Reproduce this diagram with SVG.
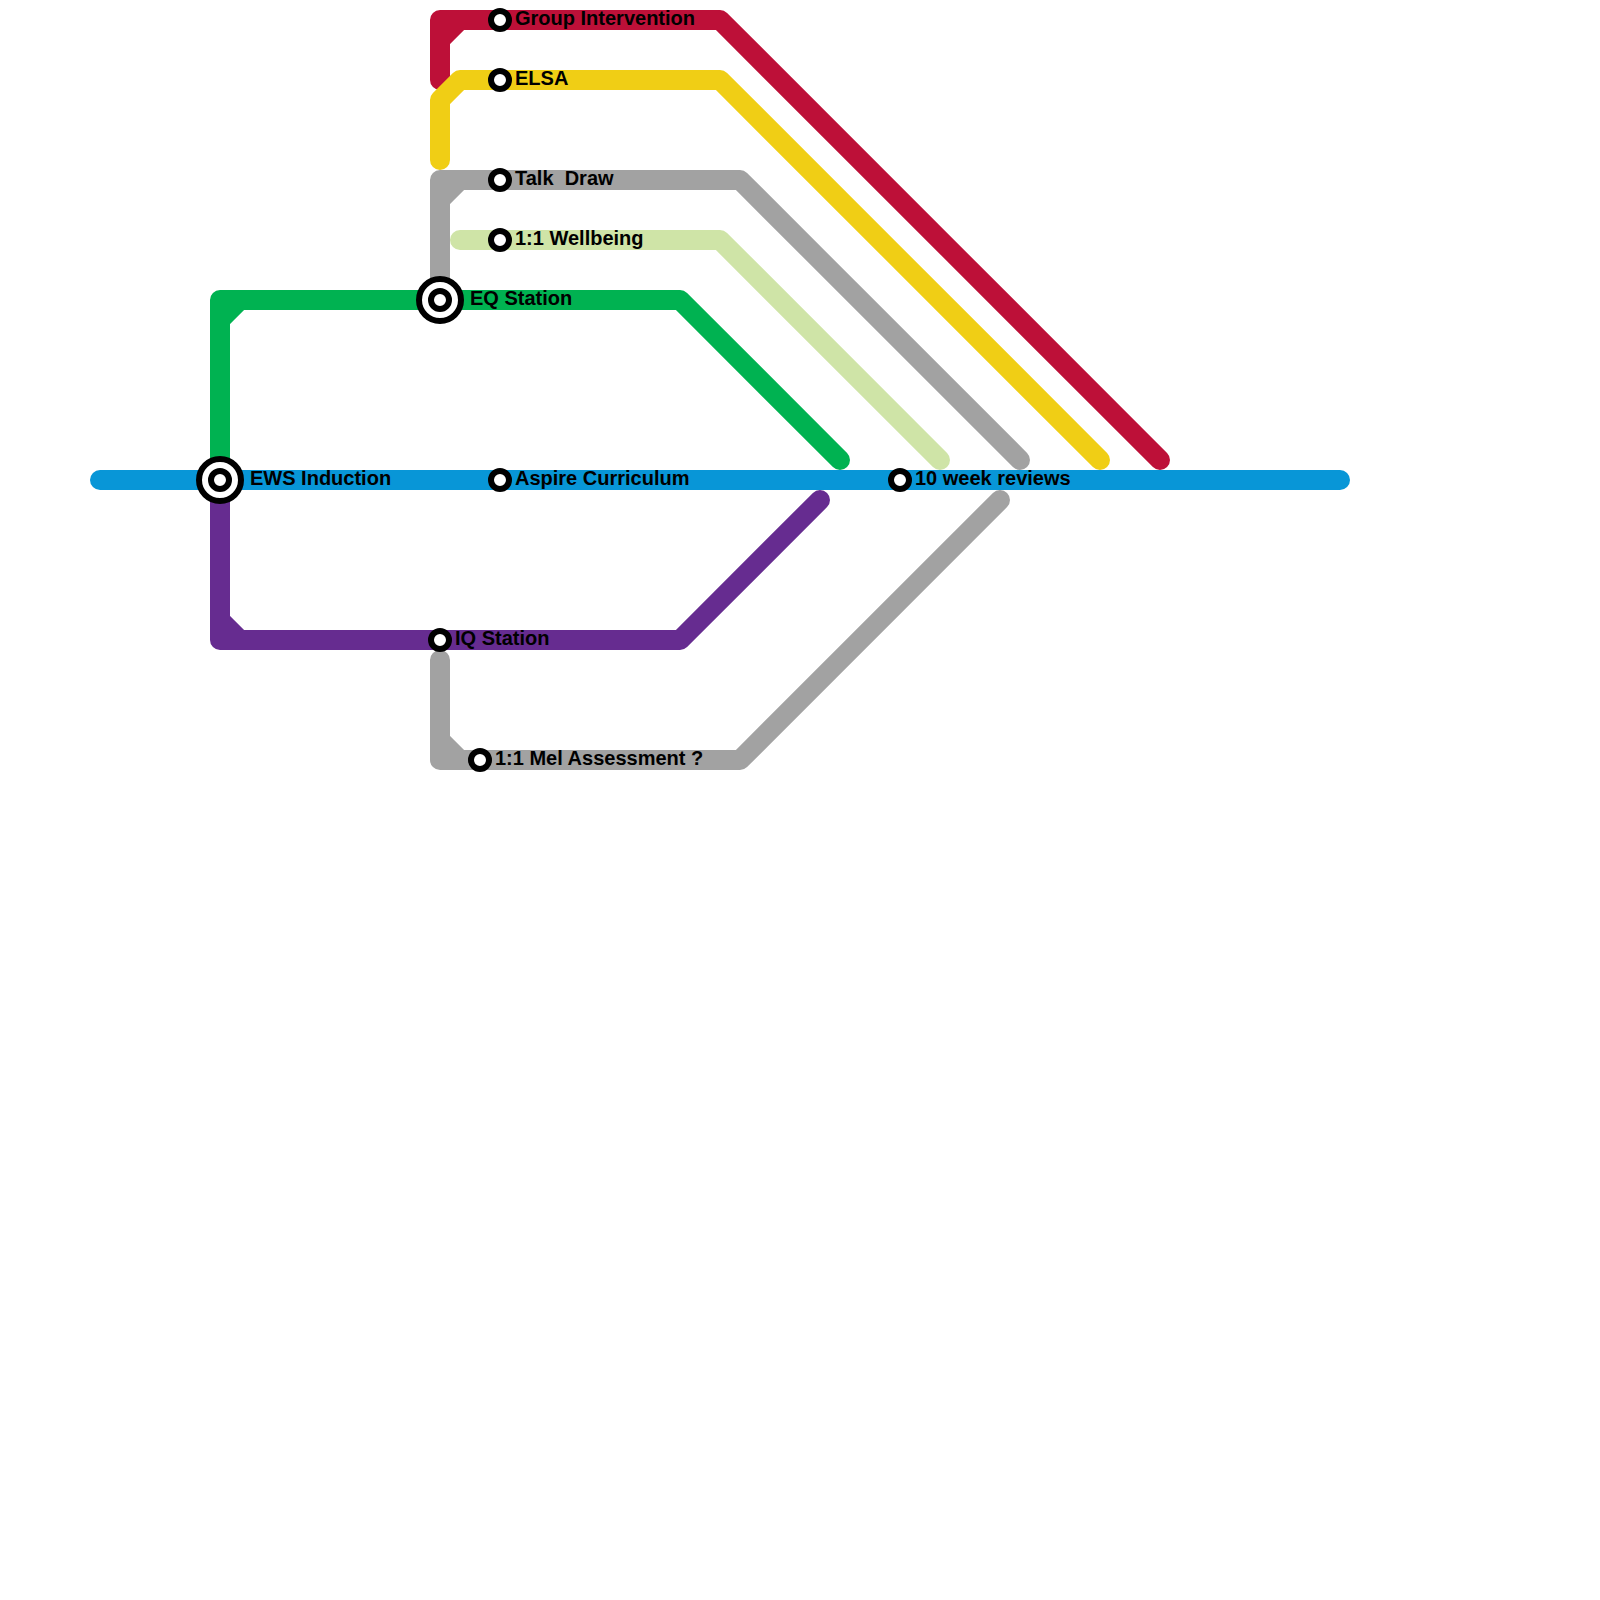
<svg xmlns="http://www.w3.org/2000/svg" width="1600" height="1600" viewBox="0 0 1600 1600">
<style>
.l{fill:none;stroke-width:20;stroke-linecap:round;stroke-linejoin:round}
.s{fill:#fff;stroke:#000;stroke-width:6}
text{font-family:"Liberation Sans",Arial,sans-serif;font-weight:700;font-size:20px;fill:#000}
</style>
<rect width="1600" height="1600" fill="#fff"/>
<g id="connectors">
<path id="line-red" class="l" stroke="#bd1038" d="M440 80V20H720L1160 460M440 80V40L460 20"/>
<path id="line-yellow" class="l" stroke="#f0ce15" d="M440 160V100L460 80H720L1100 460"/>
<path id="line-grey-upper" class="l" stroke="#a2a2a2" d="M440 300V180H740L1020 460M440 200L460 180"/>
<path id="line-lightgreen" class="l" stroke="#cfe4a7" d="M460 240H720L940 460"/>
<path id="line-green" class="l" stroke="#00b251" d="M220 480V300H680L840 460M220 320L240 300"/>
<path id="line-blue" class="l" stroke="#0896d7" d="M100 480H1340"/>
<path id="line-purple" class="l" stroke="#662c90" d="M220 480V640H680L820 500M220 620L240 640"/>
<path id="line-grey-lower" class="l" stroke="#a2a2a2" d="M440 660V760H740L1000 500M440 740L460 760"/>
</g>
<g id="ews-induction"><circle class="s" cx="220" cy="480" r="21"/><circle class="s" cx="220" cy="480" r="9"/><text x="250" y="485">EWS Induction</text></g>
<g id="eq-station"><circle class="s" cx="440" cy="300" r="21"/><circle class="s" cx="440" cy="300" r="9"/><text x="470" y="305">EQ Station</text></g>
<g id="group-intervention"><circle class="s" cx="500" cy="20" r="9"/><text x="515" y="25">Group Intervention</text></g>
<g id="elsa"><circle class="s" cx="500" cy="80" r="9"/><text x="515" y="85">ELSA</text></g>
<g id="talk-draw"><circle class="s" cx="500" cy="180" r="9"/><text x="515" y="185" xml:space="preserve">Talk  Draw</text></g>
<g id="wellbeing"><circle class="s" cx="500" cy="240" r="9"/><text x="515" y="245">1:1 Wellbeing</text></g>
<g id="aspire-curriculum"><circle class="s" cx="500" cy="480" r="9"/><text x="515" y="485">Aspire Curriculum</text></g>
<g id="ten-week-reviews"><circle class="s" cx="900" cy="480" r="9"/><text x="915" y="485">10 week reviews</text></g>
<g id="iq-station"><circle class="s" cx="440" cy="640" r="9"/><text x="455" y="645">IQ Station</text></g>
<g id="mel-assessment"><circle class="s" cx="480" cy="760" r="9"/><text x="495" y="765">1:1 Mel Assessment ?</text></g>
</svg>
